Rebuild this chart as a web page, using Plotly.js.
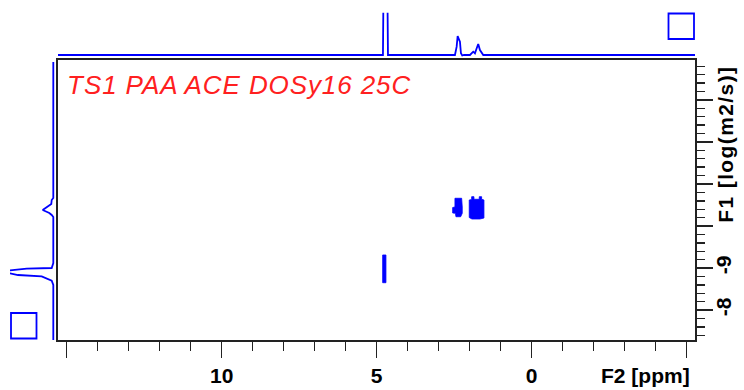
<!DOCTYPE html>
<html>
<head>
<meta charset="utf-8">
<script src="https://cdn.plot.ly/plotly-3.0.1.min.js"></script>
<style>
html,body{margin:0;padding:0;background:#fff;}
#chart{width:744px;height:390px;}
.annotation[data-index="0"] .annotation-text{letter-spacing:0.9px;}
.annotation[data-index="2"] .annotation-text{letter-spacing:1.4px;}
</style>
</head>
<body>
<div id="chart"></div>
<script>
// ---- Data ----
// F2 projection (top 1D spectrum): chemical shift [ppm] and relative intensity
const topPpm = [15.28, 4.797, 4.781, 4.652, 4.635, 2.474, 2.419, 2.387, 2.345, 2.313, 2.281, 2.239, 2.184, 1.990, 1.884, 1.829, 1.781, 1.723, 1.668, 1.613, 1.561, -5.27];
const topInt = [0, 0, 60, 60, 0, 0, 8.3, 19, 15.7, 13.3, 1.7, -0.5, 0, 0, 3.3, 1.7, 6, 11, 5, 1.7, 0, 0];

// F1 projection (left 1D spectrum): log(D) and relative intensity
const leftLogD = [-13.905, -10.667, -10.619, -10.524, -10.381, -10.310, -10.262, -10.214, -9.119, -9.071, -9.000, -8.986, -8.936, -8.905, -8.874, -8.833, -8.802, -8.698, -8.595, -7.262];
const leftInt = [0, 0, 1.6, 2, 10.6, 4, 1.6, 0, 0, 0.5, 1.6, 26.6, 43.3, 60, 43.3, 35.3, 11.6, 1.6, 0, 0];

// 2D DOSY cross peaks (contour outlines): ppm / log(D)
const peak1Ppm = [2.474, 2.258, 2.239, 2.239, 2.290, 2.442, 2.458, 2.548, 2.548, 2.474, 2.474];
const peak1LogD = [-10.660, -10.660, -10.452, -10.302, -10.221, -10.221, -10.302, -10.310, -10.440, -10.452, -10.660];
const peak2Ppm = [2.013, 1.935, 1.935, 1.861, 1.861, 1.690, 1.690, 1.613, 1.613, 1.539, 1.539, 1.668, 1.926, 2.013, 2.013];
const peak2LogD = [-10.619, -10.631, -10.698, -10.698, -10.636, -10.636, -10.698, -10.698, -10.636, -10.619, -10.190, -10.167, -10.167, -10.202, -10.619];
const hdoPpm = [4.806, 4.700, 4.700, 4.806, 4.806];
const hdoLogD = [-9.310, -9.310, -8.650, -8.650, -9.310];

// Axis ticks
const xTickVals = [15, 10, 5, 0, -5];
const xTickText = ['', '10', '5', '0', ''];
const yTickVals = [-8, -9, -10, -11, -12, -13];
const yTickText = ['-8', '-9', '', '', '', ''];

const titleText = 'TS1 PAA ACE DOSy16 25C';
const xTitle = 'F2 [ppm]';
const yTitle = 'F1 [log(m2/s)]';

// ---- Layout geometry ----
const W = 744, H = 390;
const px = v => v / W;
const py = v => 1 - v / H;
const BLUE = '#0000ff';
const tickFont = {family: 'Liberation Sans, Arial, sans-serif', size: 21, color: '#000', weight: 'bold'};

const traces = [
  {x: topPpm, y: topInt, xaxis: 'x', yaxis: 'y2', mode: 'lines', line: {color: BLUE, width: 1.8}, hoverinfo: 'skip'},
  {x: leftInt, y: leftLogD, xaxis: 'x3', yaxis: 'y', mode: 'lines', line: {color: BLUE, width: 1.8}, hoverinfo: 'skip'},
  {x: peak1Ppm, y: peak1LogD, xaxis: 'x', yaxis: 'y', mode: 'lines', fill: 'toself', fillcolor: BLUE, line: {color: BLUE, width: 0.8}, hoverinfo: 'skip'},
  {x: peak2Ppm, y: peak2LogD, xaxis: 'x', yaxis: 'y', mode: 'lines', fill: 'toself', fillcolor: BLUE, line: {color: BLUE, width: 0.8}, hoverinfo: 'skip'},
  {x: hdoPpm, y: hdoLogD, xaxis: 'x', yaxis: 'y', mode: 'lines', fill: 'toself', fillcolor: BLUE, line: {color: BLUE, width: 0.8}, hoverinfo: 'skip'}
];

const layout = {
  width: W, height: H, autosize: false,
  margin: {l: 0, r: 0, t: 0, b: 0, pad: 0},
  paper_bgcolor: '#fff', plot_bgcolor: '#fff',
  showlegend: false,
  xaxis: {
    domain: [px(58), px(695)], anchor: 'y', side: 'bottom',
    range: [15.28, -5.27], autorange: false,
    showgrid: false, zeroline: false,
    showline: true, mirror: true, linecolor: '#222', linewidth: 2,
    tickmode: 'array', tickvals: xTickVals, ticktext: xTickText,
    ticks: 'outside', ticklen: 16, tickwidth: 1.6, tickcolor: '#222',
    tickfont: tickFont,
    minor: {tickmode: 'linear', tick0: 0, dtick: 1, ticks: 'outside', ticklen: 9, tickwidth: 1.6, tickcolor: '#222', showgrid: false}
  },
  yaxis: {
    domain: [py(340), py(60)], anchor: 'x', side: 'right',
    range: [-7.286, -13.952], autorange: false,
    showgrid: false, zeroline: false,
    showline: true, mirror: true, linecolor: '#222', linewidth: 2,
    tickmode: 'array', tickvals: yTickVals, ticktext: yTickText,
    ticks: 'outside', ticklen: 16, tickwidth: 1.6, tickcolor: '#222',
    tickangle: -90, tickfont: tickFont, ticklabelstandoff: -7,
    minor: {tickmode: 'linear', tick0: -8, dtick: 0.2, ticks: 'outside', ticklen: 8, tickwidth: 1.4, tickcolor: '#222', showgrid: false}
  },
  yaxis2: {
    domain: [py(60), py(12.7)], anchor: 'x',
    range: [-5, 42.3], autorange: false,
    showgrid: false, zeroline: false, showline: false, showticklabels: false, ticks: ''
  },
  xaxis3: {
    domain: [px(10), px(58)], anchor: 'y',
    range: [43.3, -4.7], autorange: false,
    showgrid: false, zeroline: false, showline: false, showticklabels: false, ticks: ''
  },
  shapes: [
    {type: 'rect', xref: 'paper', yref: 'paper', x0: px(668.5), x1: px(694), y0: py(39), y1: py(13.5), line: {color: BLUE, width: 1.8}},
    {type: 'rect', xref: 'paper', yref: 'paper', x0: px(11), x1: px(36.5), y0: py(338.5), y1: py(313), line: {color: BLUE, width: 1.8}}
  ],
  annotations: [
    {text: titleText, xref: 'paper', yref: 'paper', x: px(75), y: py(85), xanchor: 'left', yanchor: 'middle', showarrow: false,
     font: {family: 'Liberation Sans, Arial, sans-serif', size: 26, color: '#ff2020', style: 'italic'}},
    {text: xTitle, xref: 'paper', yref: 'paper', x: px(692), y: py(375), xanchor: 'right', yanchor: 'middle', showarrow: false,
     font: tickFont},
    {text: yTitle, xref: 'paper', yref: 'paper', x: px(725), y: py(144), xanchor: 'center', yanchor: 'middle', textangle: -90, showarrow: false,
     font: tickFont}
  ]
};

Plotly.newPlot('chart', traces, layout, {displayModeBar: false, staticPlot: true});
</script>
</body>
</html>
